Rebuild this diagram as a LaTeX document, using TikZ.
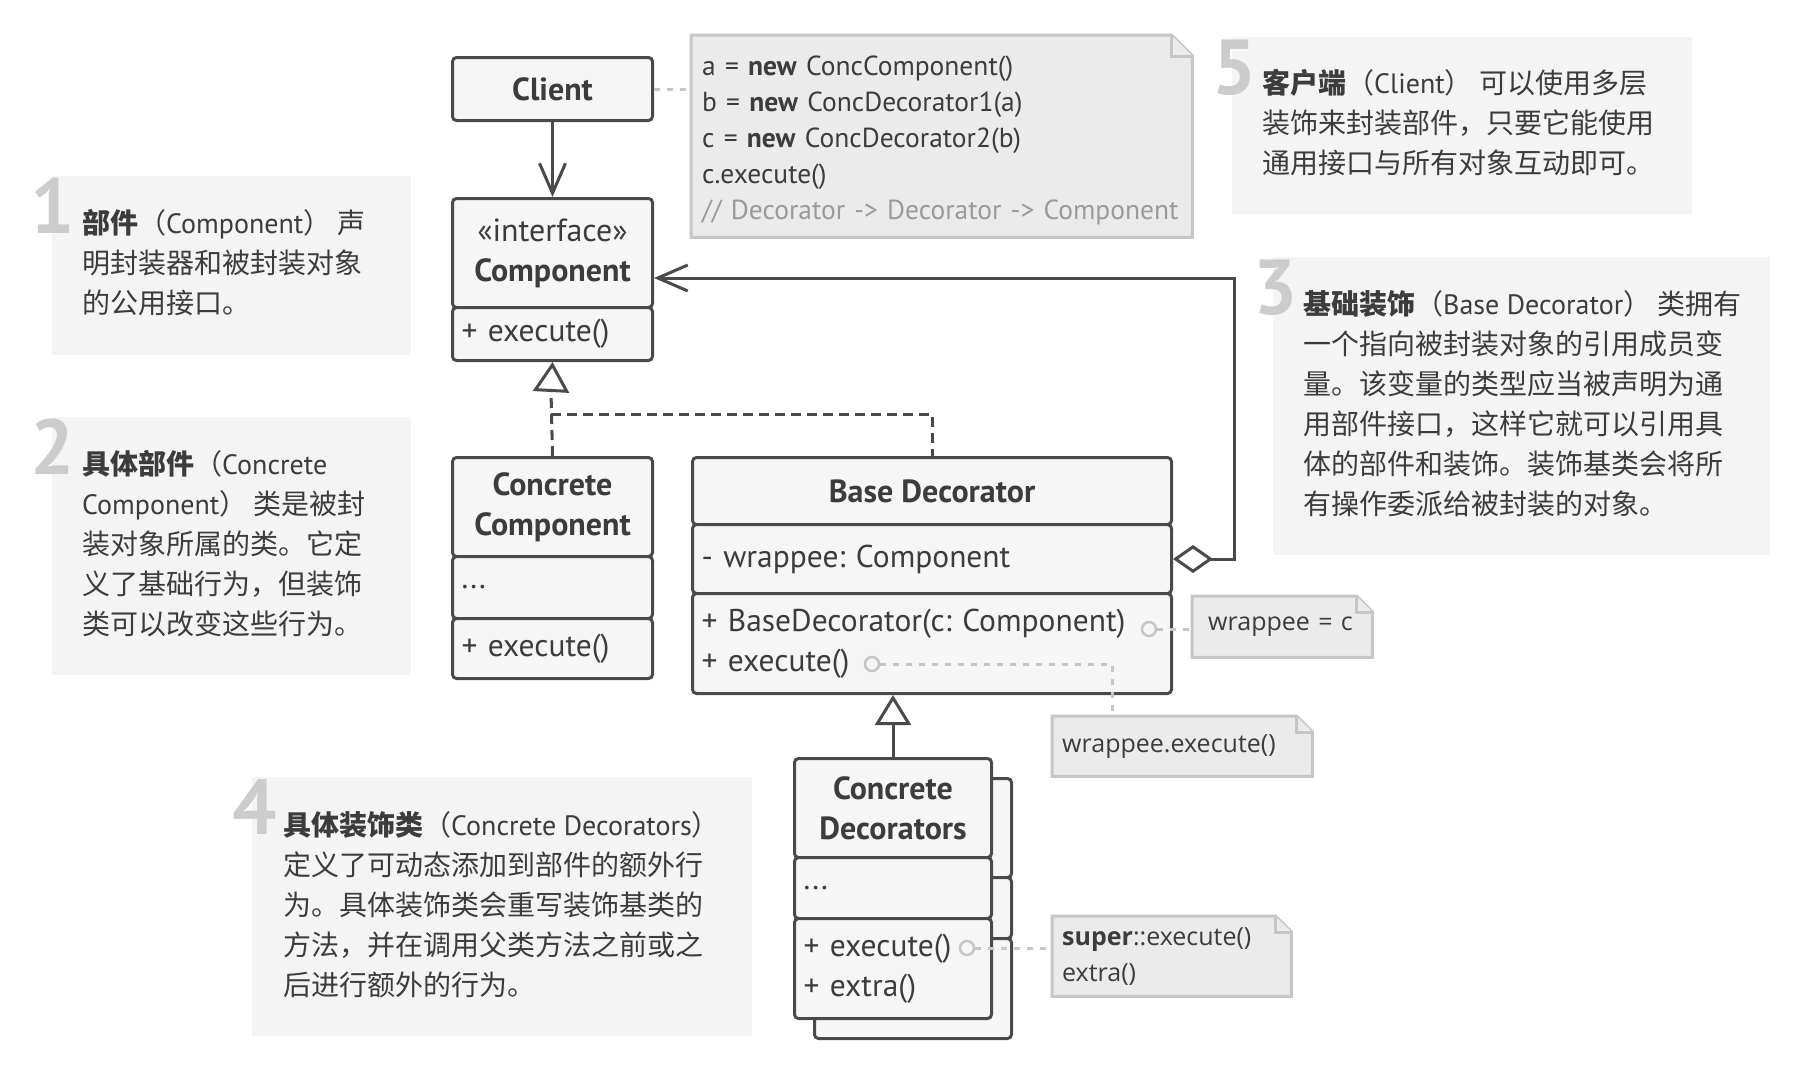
\documentclass[tikz,border=0pt]{standalone}
\usepackage{fontspec}
\setmainfont{PT Sans}
\newfontfamily\cjk{Noto Sans CJK SC}
\newfontfamily\osans{Open Sans}
\newfontfamily\ptlat{PT Sans}
\newcommand\lt[1]{{\ptlat #1}}
\frenchspacing
\usetikzlibrary{arrows.meta,backgrounds,calc}
\definecolor{ink}{HTML}{3C3C3C}
\definecolor{clsline}{HTML}{4A4A4A}
\definecolor{clsfill}{HTML}{F6F6F6}
\definecolor{notefill}{HTML}{EBEBEB}
\definecolor{noteline}{HTML}{C6C6C6}
\definecolor{annofill}{HTML}{F4F4F4}
\definecolor{numgray}{HTML}{CCCCCC}
\definecolor{cmtgray}{HTML}{9A9A9A}
\tikzset{
  cls/.style={draw=clsline, fill=clsfill, line width=3pt, rounded corners=4pt, inner sep=0pt,
    anchor=north west, text=ink, font=\fontsize{31.5}{40}\selectfont},
  clstitle/.style={cls, align=center, font=\fontsize{32}{40}\selectfont\bfseries},
  clsmem/.style={cls, align=left, inner xsep=9pt},
  conn/.style={draw=clsline, line width=3pt},
  dashpat/.style={dash pattern=on 10pt off 6pt},
  noteconn/.style={draw=noteline, line width=3pt, dash pattern=on 6pt off 7pt},
  knob/.style={circle, draw=noteline, line width=2.5pt, fill=clsfill, minimum size=14pt, inner sep=0pt},
  notebox/.style={draw=noteline, fill=notefill, line width=3pt},
  notenode/.style={anchor=north west, inner xsep=10pt, inner ysep=0pt, align=left,
    font=\osans\fontsize{25}{36}\selectfont, text=ink},
  codenode/.style={anchor=north west, inner xsep=11pt, inner ysep=0pt, align=left,
    font=\fontsize{27.5}{36}\selectfont, text=ink},
  anno/.style={fill=annofill, draw=none, anchor=north west, inner sep=0pt},
  num/.style={anchor=base west, inner sep=0pt, text=numgray, font=\fontsize{78}{78}\selectfont\bfseries},
  annotext/.style={anchor=north west, inner sep=0pt, align=left, font=\cjk\fontsize{28}{40}\selectfont, text=ink},
  barb/.tip={Straight Barb[length=30pt, width=26pt]},
  gen/.tip={Triangle[open, length=30pt, width=36pt]},
}
\newcommand\foldoutline[2]{%
  \begin{scope}[on background layer]
    \filldraw[notebox] (#1.north west) -- ([xshift=-#2]#1.north east) -- ([yshift=-#2]#1.north east)
      -- (#1.south east) -- (#1.south west) -- cycle;
    \draw[notebox] ([xshift=-#2]#1.north east) |- ([yshift=-#2]#1.north east);
  \end{scope}}
\begin{document}
\begin{tikzpicture}[x=1pt, y=-1pt]
\useasboundingbox (0,0) rectangle (1814,1080);
\begin{scope}[on background layer]
  \fill[white] (0,0) rectangle (1814,1080);
\end{scope}

% ---------- annotations ----------
\node[anno, minimum width=359pt, minimum height=179pt] (a1) at (52,176) {};
\node[num] (n1) at (30,233) {1};
\node[annotext] (t1) at (82,209) {\textbf{部件}（\lt{Component}） 声\\明封装器和被封装对象\\的公用接口。};

\node[anno, minimum width=359pt, minimum height=258pt] (a2) at (52,417) {};
\node[num] (n2) at (30,474) {2};
\node[annotext] (t2) at (82,450) {\textbf{具体部件}（\lt{Concrete}\\\lt{Component}） 类是被封\\装对象所属的类。它定\\义了基础行为，但装饰\\类可以改变这些行为。};

\node[anno, minimum width=460pt, minimum height=177pt] (a5) at (1232,37) {};
\node[num] (n5) at (1212,94) {5};
\node[annotext] (t5) at (1262,69) {\textbf{客户端}（\lt{Client}） 可以使用多层\\装饰来封装部件，只要它能使用\\通用接口与所有对象互动即可。};

\node[anno, minimum width=497pt, minimum height=298pt] (a3) at (1273,257) {};
\node[num] (n3) at (1253,314) {3};
\node[annotext] (t3) at (1303,290) {\textbf{基础装饰}（\lt{Base Decorator}） 类拥有\\一个指向被封装对象的引用成员变\\量。该变量的类型应当被声明为通\\用部件接口，这样它就可以引用具\\体的部件和装饰。装饰基类会将所\\有操作委派给被封装的对象。};

\node[anno, minimum width=500pt, minimum height=259pt] (a4) at (252,777) {};
\node[num] (n4) at (232,834) {4};
\node[annotext] (t4) at (283,811) {\textbf{具体装饰类}（\lt{Concrete Decorators}）\\定义了可动态添加到部件的额外行\\为。具体装饰类会重写装饰基类的\\方法，并在调用父类方法之前或之\\后进行额外的行为。};

% ---------- classes ----------
\node[clstitle, minimum width=200pt, minimum height=63pt] (client) at (451,56) {Client};

\node[clstitle, minimum width=200pt, minimum height=109pt] (comptitle) at (451,197) {\mdseries«interface»\\Component};
\node[clsmem, minimum width=200pt, text width=182pt, minimum height=53pt] (compmeth) at (451,306) {+ execute()};

\node[clstitle, minimum width=200pt, minimum height=99pt] (cctitle) at (451,456) {Concrete\\Component};
\node[clsmem, minimum width=200pt, text width=182pt, minimum height=62pt] (ccattr) at (451,555) {...};
\node[clsmem, minimum width=200pt, text width=182pt, minimum height=60pt] (ccmeth) at (451,617) {+ execute()};

\node[clstitle, minimum width=479pt, minimum height=67pt] (bdtitle) at (691,456) {Base Decorator};
\node[clsmem, minimum width=479pt, text width=461pt, minimum height=69pt] (bdattr) at (691,523) {- wrappee: Component};
\node[clsmem, minimum width=479pt, text width=461pt, minimum height=100pt] (bdmeth) at (691,592) {+ BaseDecorator(c: Component)\\+ execute()};

\node[cls, minimum width=197pt, minimum height=99pt] (cdbtitle) at (813,777) {};
\node[cls, minimum width=197pt, minimum height=61pt] (cdbattr) at (813,876) {};
\node[cls, minimum width=197pt, minimum height=100pt] (cdbmeth) at (813,937) {};
\node[clstitle, minimum width=197pt, minimum height=99pt] (cdtitle) at (793,757) {Concrete\\Decorators};
\node[clsmem, minimum width=197pt, text width=179pt, minimum height=61pt] (cdattr) at (793,856) {...};
\node[clsmem, minimum width=197pt, text width=179pt, minimum height=100pt] (cdmeth) at (793,917) {+ execute()\\+ extra()};

% ---------- notes ----------
\node[codenode, minimum width=501pt, minimum height=202pt, text width=479pt] (code) at (691,35)
  {\rule{0pt}{28.5pt}a = \textbf{new} ConcComponent()\\b = \textbf{new} ConcDecorator1(a)\\c = \textbf{new} ConcDecorator2(b)\\c.execute()\\\textcolor{cmtgray}{// Decorator -> Decorator -> Component}};
\foldoutline{code}{21pt}

\node[notenode, minimum width=180pt, minimum height=61pt, text width=148pt, inner xsep=16pt] (wrapc) at (1192,596) {wrappee = c};
\foldoutline{wrapc}{16pt}
\node[notenode, minimum width=260pt, minimum height=60pt, text width=240pt] (wexec) at (1052,716) {wrappee.execute()};
\foldoutline{wexec}{16pt}
\node[notenode, minimum width=239pt, minimum height=80pt, text width=219pt] (supern) at (1052,916) {\textbf{super}::execute()\\extra()};
\foldoutline{supern}{16pt}

% ---------- connectors ----------
\draw[conn, -barb] (client) -- (comptitle);
\draw[conn, {Diamond[open, length=40pt, width=28pt]}-barb] (bdattr.east) -- ++(61,0) |- ([yshift=-25pt]comptitle.east);

\coordinate (tribase) at (551,391);
\coordinate (junc) at (551,414);
\draw[conn, -gen] (tribase) -- (compmeth.south);
\draw[conn, dashpat] (cctitle.north) -- (tribase);
\draw[conn, dashpat] (junc) -| (bdtitle.north);
\draw[conn, -gen] (cdtitle.north) -- (cdtitle.north |- bdmeth.south);

\node[knob] (k1) at (1149,629) {};
\node[knob] (k2) at (872,664) {};
\node[knob] (k3) at (967,948) {};
\draw[noteconn] (client.east) -- (client.east -| code.west);
\draw[noteconn] (k1) -- (k1 -| wrapc.west);
\draw[noteconn] (k2) -| ([xshift=60pt]wexec.north west);
\draw[noteconn] (k3) -- (k3 -| supern.west);
\end{tikzpicture}
\end{document}
